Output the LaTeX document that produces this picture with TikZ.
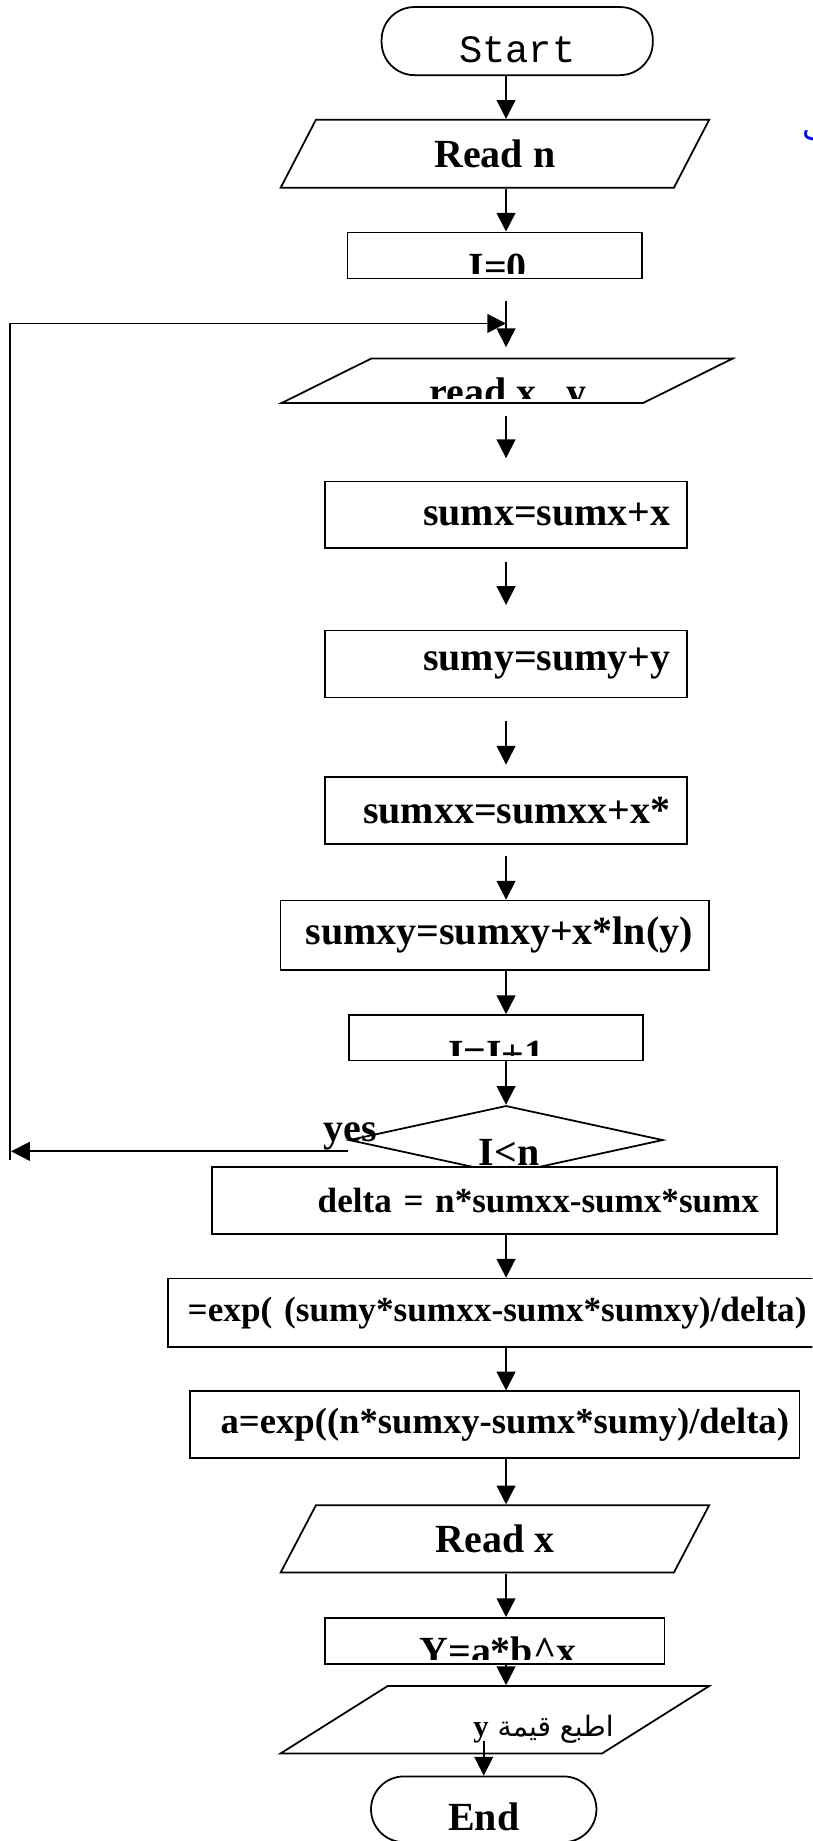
\documentclass[tikz,border=0pt]{standalone}
\usepackage{fontspec}
\setmainfont{Liberation Serif}
\newfontfamily\monofont{Liberation Mono}
\newfontfamily\arabicfont[Script=Arabic]{DejaVu Sans}
\TeXXeTstate=1
\usetikzlibrary{shapes.geometric,arrows.meta}

\begin{document}
\begin{tikzpicture}[x=1pt,y=-1pt,line width=1.5pt,
   >={Triangle[length=16pt,width=16pt]},
   big/.style={font=\fontsize{34}{40}\selectfont\bfseries},
   mid/.style={font=\fontsize{#1}{36}\selectfont\bfseries},
   term/.style={draw,fill=white,rounded corners=28pt,inner sep=0pt,text height=36pt,text depth=0pt},
   proc/.style={draw,fill=white,inner ysep=0pt,inner xsep=14pt,align=right},
   io/.style 2 args={trapezium,draw,fill=white,trapezium stretches body,inner sep=0pt,
      trapezium left angle=#1,trapezium right angle=#2},
   cut/.style n args={3}{path picture={
      \clip (path picture bounding box.north west) rectangle ([yshift=4pt]path picture bounding box.south east);
      \node[big,anchor=base,inner sep=0pt] at ([xshift=#1,yshift=#2]path picture bounding box.south) {#3};}}]
   \useasboundingbox (0,0) rectangle (692,1568);
   \clip (0,0) rectangle (692,1568);
   \coordinate (spine) at (431,0);
   \coordinate (joint) at (431,256);
   \coordinate (back) at (8.5,988);
   \coordinate (backtop) at (8.5,275.5);
   \coordinate (yesend) at (9.4,980.6);
   \coordinate (outy) at (412,1483);

   \node[term,font=\monofont\fontsize{33}{40}\selectfont,minimum width=231pt,minimum height=58pt] (start) at (440.5,35) {Start};
   \node[io={38.5}{141.5},big,minimum width=365pt,minimum height=58pt] (readn) at (421.5,131) {Read n};
   \node[font=\arabicfont\fontsize{28}{30}\selectfont,text=blue,anchor=base west,inner sep=0pt] (tail) at (683,120) {ب};
   \node[proc,cut={2.6pt}{-1.8pt}{I=0},minimum width=250.6pt,minimum height=39.2pt] (init) at (421.3,217.6) {};
   \node[io={26.4}{153.6},cut={0.8pt}{-2.3pt}{read x , y},text height=37.8pt,text depth=0pt,minimum width=384pt,minimum height=37.8pt] (readxy) at (432,324.3) {};
   \node[proc,big,text width=280pt,minimum height=57pt] (sumx) at (431,438.5) {sumx=sumx+x};
   \node[proc,big,text width=280pt,minimum height=57pt] (sumy) at (431,565.5) {sumy=sumy+y};
   \node[proc,big,text width=280pt,minimum height=57pt] (sumxx) at (431,690.5) {sumxx=sumxx+x*};
   \node[proc,big,text width=337pt,minimum height=59pt] (sumxy) at (421.5,796.5) {sumxy=sumxy+x*ln(y)};
   \node[proc,cut={0.6pt}{-5.5pt}{I=I+1},minimum width=250.5pt,minimum height=38.8pt] (inc) at (422.2,883.9) {};
   \node[diamond,draw,fill=white,inner sep=0pt,minimum width=267.5pt,minimum height=58.6pt,cut={2.7pt}{7pt}{I<n}] (cond) at (431,971) {};
   \node[big,anchor=base west,inner sep=0pt] (yes) at (275,972) {yes};
   \node[proc,mid=29.9,inner xsep=15pt,text width=451pt,minimum height=57.3pt] (delta) at (421,1022.3) {delta = n*sumxx-sumx*sumx};
   \node[proc,mid=30,inner xsep=7pt,text width=537pt,minimum height=58pt] (bcoef) at (418.5,1118) {=exp( (sumy*sumxx-sumx*sumxy)/delta)};
   \node[proc,mid=31.2,inner xsep=9pt,text width=501pt,minimum height=57pt] (acoef) at (421.5,1213.5) {a=exp((n*sumxy-sumx*sumy)/delta)};
   \node[io={38.5}{141.5},big,minimum width=365pt,minimum height=57.4pt] (readx) at (421.5,1310.7) {Read x};
   \node[proc,cut={2.8pt}{-0.3pt}{Y=a*b\textasciicircum x},minimum width=289.5pt,minimum height=39pt] (ycalc) at (421.25,1397.5) {};
   \node[io={32.2}{147.8},cut={41.5pt}{14.8pt}{\arabicfont\mdseries\fontsize{24}{30}\selectfont\beginR اطبع قيمة {\rmfamily\bfseries\fontsize{26}{30}\selectfont y}\endR},text height=57.4pt,text depth=0pt,minimum width=365pt,minimum height=57.4pt] (print) at (421.5,1464.7) {};
   \node[term,big,minimum width=192pt,minimum height=56pt] (endn) at (412,1541) {End};

   \draw[->] (start.south -| spine) -- (readn.north -| spine);
   \draw[->] (readn.south -| spine) -- (init.north -| spine);
   \draw[->,shorten >=9pt] (joint) -- (readxy.north -| spine);
   \draw[->,shorten <=10pt,shorten >=19pt] (readxy.south -| spine) -- (sumx.north -| spine);
   \draw[->,shorten <=11pt,shorten >=21pt] (sumx.south -| spine) -- (sumy.north -| spine);
   \draw[->,shorten <=19pt,shorten >=10pt] (sumy.south -| spine) -- (sumxx.north -| spine);
   \draw[->,shorten <=9pt] (sumxx.south -| spine) -- (sumxy.north -| spine);
   \draw[->] (sumxy.south -| spine) -- (inc.north -| spine);
   \draw[->] (inc.south -| spine) -- (cond.north);
   \draw[->] (delta.south -| spine) -- (bcoef.north -| spine);
   \draw[->] (bcoef.south -| spine) -- (acoef.north -| spine);
   \draw[->] (acoef.south -| spine) -- (readx.north -| spine);
   \draw[->] (readx.south -| spine) -- (ycalc.north -| spine);
   \draw[->] (ycalc.south -| spine) -- (print.north -| spine);
   \draw[->] (outy) -- (endn.north);
   \draw[->] ([yshift=-9.6pt]cond.west) -- (yesend);
   \draw[->] (back) -- (backtop) -- (backtop -| spine);
\end{tikzpicture}
\end{document}
